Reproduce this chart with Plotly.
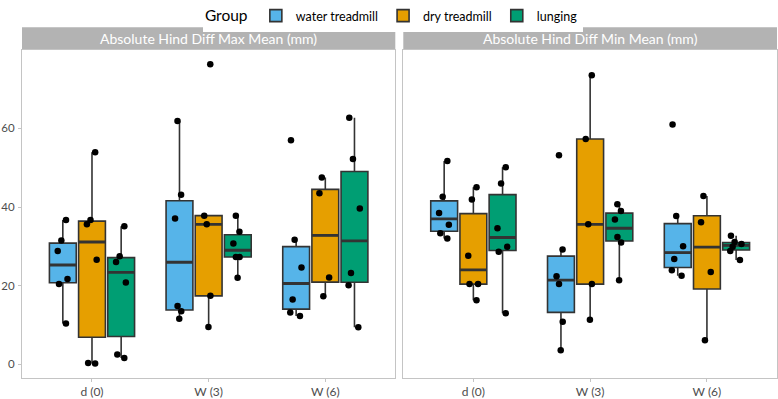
import numpy as np
import plotly.graph_objects as go

categories = ["d (0)", "W (3)", "W (6)"]
groups = ["water treadmill", "dry treadmill", "lunging"]
colors = ["#56B4E9", "#E69F00", "#009E73"]
panel_titles = ["Absolute Hind Diff Max Mean (mm)", "Absolute Hind Diff Min Mean (mm)"]
y_ticks = [0, 20, 40, 60]

# Absolute Hind Diff Max Mean (mm): values per category [d (0), W (3), W (6)]
max_water = [[36.7, 31.5, 28.8, 21.7, 20.4, 10.4],
             [61.9, 43.1, 37.1, 14.8, 13.5, 11.6],
             [57.0, 31.7, 24.6, 16.5, 13.2, 12.3]]
max_dry = [[53.9, 36.7, 35.6, 26.6, 0.3, 0.2],
           [76.3, 37.8, 35.6, 17.4, 9.5],
           [47.5, 43.5, 22.1, 17.3]]
max_lunging = [[35.1, 27.5, 26.0, 20.8, 2.5, 1.6],
               [37.8, 33.7, 30.7, 27.3, 27.3, 22.0],
               [62.7, 52.2, 39.6, 23.2, 20.1, 9.4]]

# Absolute Hind Diff Min Mean (mm)
min_water = [[51.7, 42.6, 38.5, 35.5, 33.3, 32.0],
             [53.2, 29.2, 22.4, 20.4, 10.8, 3.6],
             [61.0, 37.7, 30.0, 26.8, 23.9, 22.5]]
min_dry = [[45.0, 41.9, 27.6, 20.4, 20.4, 16.3],
           [73.5, 57.3, 35.6, 20.4, 11.3],
           [42.8, 36.1, 23.5, 6.1]]
min_lunging = [[50.1, 46.0, 34.6, 29.9, 28.6, 13.0],
               [40.7, 39.0, 36.8, 32.4, 31.0, 21.4],
               [32.7, 31.1, 30.6, 29.9, 28.8, 26.5]]

panels = [[max_water, max_dry, max_lunging], [min_water, min_dry, min_lunging]]


def box_stats(vals):
    a = np.array(vals, dtype=float)
    q1, med, q3 = np.percentile(a, [25, 50, 75])
    iqr = q3 - q1
    lo = a[a >= q1 - 1.5 * iqr].min()
    hi = a[a <= q3 + 1.5 * iqr].max()
    return q1, med, q3, lo, hi


fig = go.Figure()
for p, panel in enumerate(panels):
    xa = "x" if p == 0 else "x2"
    ya = "y" if p == 0 else "y2"
    all_stats = [[box_stats(v) for v in series] for series in panel]
    for g, stats in enumerate(all_stats):
        fig.add_trace(go.Box(
            x=categories,
            q1=[s[0] for s in stats], median=[s[1] for s in stats], q3=[s[2] for s in stats],
            lowerfence=[s[3] for s in stats], upperfence=[s[4] for s in stats],
            name=groups[g], legendgroup=groups[g], showlegend=(p == 0),
            offsetgroup=groups[g], fillcolor=colors[g],
            line=dict(color="#333333", width=1.6), whiskerwidth=0,
            boxpoints=False, xaxis=xa, yaxis=ya,
        ))
    # thicker median lines (ggplot style)
    for g, stats in enumerate(all_stats):
        med = [s[1] for s in stats]
        fig.add_trace(go.Box(
            x=categories, q1=med, median=med, q3=med, lowerfence=med, upperfence=med,
            name=groups[g], legendgroup=groups[g], showlegend=False,
            offsetgroup=groups[g], fillcolor="rgba(0,0,0,0)",
            line=dict(color="#333333", width=2.8), whiskerwidth=0,
            boxpoints=False, xaxis=xa, yaxis=ya, hoverinfo="skip",
        ))
    for g, series in enumerate(panel):
        xs, ys = [], []
        for c, vals in zip(categories, series):
            xs += [c] * len(vals)
            ys += list(vals)
        fig.add_trace(go.Box(
            x=xs, y=ys, name=groups[g], legendgroup=groups[g], showlegend=False,
            offsetgroup=groups[g], fillcolor="rgba(0,0,0,0)",
            line=dict(color="rgba(0,0,0,0)", width=0), whiskerwidth=0,
            boxpoints="all", jitter=0.45, pointpos=0,
            marker=dict(color="black", size=6.5, line=dict(width=0)),
            xaxis=xa, yaxis=ya, hoverinfo="y",
        ))

border = "#C4C4C4"
axis_common = dict(showline=True, linecolor=border, linewidth=1, mirror=True,
                   showgrid=False, zeroline=False, ticks="outside", ticklen=3,
                   tickcolor=border, tickfont=dict(size=12, color="#4D4D4D"))

l, r, t, b = 22, 1, 50, 21
W, H = 778, 399
pw = W - l - r
d1 = [0, (395.3 - l) / pw]
d2 = [(403.3 - l) / pw, 1]
yr = [-3.49, 79.94]
ph = H - t - b

y_axis = dict(axis_common, tickfont=dict(size=11.5, color="#4D4D4D"))

fig.update_layout(
    width=W, height=H,
    margin=dict(l=l, r=r, t=t, b=b, autoexpand=False),
    paper_bgcolor="white", plot_bgcolor="white",
    font=dict(family="Lato", color="#4D4D4D"),
    boxmode="group", boxgap=0.25, boxgroupgap=0.08,
    xaxis=dict(domain=d1, anchor="y", categoryorder="array", categoryarray=categories,
               range=[-0.6, 2.6], automargin=False, **axis_common),
    xaxis2=dict(domain=d2, anchor="y2", categoryorder="array", categoryarray=categories,
                range=[-0.6, 2.6], automargin=False, **axis_common),
    yaxis=dict(domain=[0, 1], anchor="x", range=yr, tickvals=y_ticks, automargin=False,
               ticklabelstandoff=1, **y_axis),
    yaxis2=dict(domain=[0, 1], anchor="x2", range=yr, matches="y", automargin=False,
                showticklabels=False, **{k: v for k, v in axis_common.items() if k != "ticks"}, ticks=""),
    legend=dict(orientation="h", xref="container", yref="paper", x=0.505, xanchor="center",
                y=1 + 49.0 / ph, yanchor="top", title=dict(text="Group", font=dict(size=15.5, color="black")),
                font=dict(size=12.5, color="black"), itemwidth=30, tracegroupgap=0),
)

strip_top = 1 + (50 - 27.3) / ph
for p, dom in enumerate([d1, d2]):
    fig.add_shape(type="rect", xref="paper", yref="paper", x0=dom[0], x1=dom[1], y0=1, y1=strip_top,
                  fillcolor="#B3B3B3", line=dict(width=0), layer="below")
    fig.add_annotation(text=panel_titles[p], xref="paper", yref="paper",
                       x=(dom[0] + dom[1]) / 2, y=(1 + strip_top) / 2, showarrow=False,
                       xanchor="center", yanchor="middle", font=dict(size=14, color="white"))

fig.write_html("out.html", config={"displayModeBar": False},
               post_script="document.body.style.margin='0';document.body.style.overflow='hidden';")
